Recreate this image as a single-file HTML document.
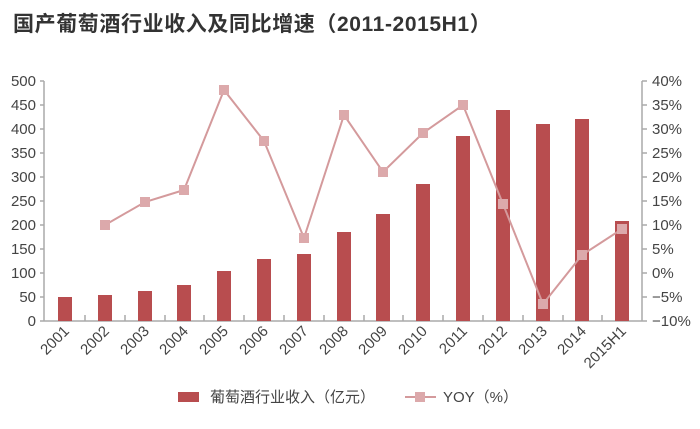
<!DOCTYPE html>
<html><head><meta charset="utf-8"><style>
body{margin:0;background:#fff;}
svg{display:block;font-family:"Liberation Sans","Noto Sans CJK SC",sans-serif;}
</style></head><body>
<svg width="700" height="429" viewBox="0 0 700 429" xmlns="http://www.w3.org/2000/svg">
<text x="13" y="31" font-size="21" font-weight="bold" fill="#333" letter-spacing="0.6">国产葡萄酒行业收入及同比增速（2011-2015H1）</text>
<g font-size="15" fill="#444" text-anchor="end">
<text x="36" y="86">500</text><text x="36" y="110">450</text><text x="36" y="134">400</text>
<text x="36" y="158">350</text><text x="36" y="182">300</text><text x="36" y="206">250</text>
<text x="36" y="230">200</text><text x="36" y="254">150</text><text x="36" y="278">100</text>
<text x="36" y="302">50</text><text x="36" y="326">0</text>
</g>
<g font-size="15" fill="#444">
<text x="652" y="86">40%</text><text x="652" y="110">35%</text><text x="652" y="134">30%</text>
<text x="652" y="158">25%</text><text x="652" y="182">20%</text><text x="652" y="206">15%</text>
<text x="652" y="230">10%</text><text x="652" y="254">5%</text><text x="652" y="278">0%</text>
<text x="652" y="302">−5%</text><text x="652" y="326">−10%</text>
</g>
<g stroke="#aaa" stroke-width="1.5" fill="none">
<line x1="44" y1="81" x2="44" y2="321"/>
<line x1="642" y1="81" x2="642" y2="321"/>
<line x1="44" y1="321" x2="642" y2="321"/>
<path d="M642 81h5M642 105h5M642 129h5M642 153h5M642 177h5M642 201h5M642 225h5M642 249h5M642 273h5M642 297h5M642 321h5"/>
<path d="M40 81h4M40 105h4M40 129h4M40 153h4M40 177h4M40 201h4M40 225h4M40 249h4M40 273h4M40 297h4M40 321h4"/>
<path d="M85 315v6M125 315v6M165 315v6M204 315v6M244 315v6M284 315v6M324 315v6M364 315v6M403 315v6M443 315v6M483 315v6M523 315v6M563 315v6M602 315v6"/>
</g>
<g fill="#b84d4f">
<rect x="58" y="297" width="14" height="24"/>
<rect x="98" y="295" width="14" height="26"/>
<rect x="138" y="291" width="14" height="30"/>
<rect x="177" y="285" width="14" height="36"/>
<rect x="217" y="271" width="14" height="50"/>
<rect x="257" y="259" width="14" height="62"/>
<rect x="297" y="254" width="14" height="67"/>
<rect x="337" y="232" width="14" height="89"/>
<rect x="376" y="214" width="14" height="107"/>
<rect x="416" y="184" width="14" height="137"/>
<rect x="456" y="136" width="14" height="185"/>
<rect x="496" y="110" width="14" height="211"/>
<rect x="536" y="124" width="14" height="197"/>
<rect x="575" y="119" width="14" height="202"/>
<rect x="615" y="221" width="14" height="100"/>
</g>
<polyline fill="none" stroke="#d49a9c" stroke-width="2" points="105,225 145,202 184,190 224,90 264,141 304,238 344,115 383,172 423,133 463,105 503,204 543,304 582,255 622,229"/>
<g fill="#dca9ab">
<rect x="100" y="220" width="10" height="10"/><rect x="140" y="197" width="10" height="10"/>
<rect x="179" y="185" width="10" height="10"/><rect x="219" y="85" width="10" height="10"/>
<rect x="259" y="136" width="10" height="10"/><rect x="299" y="233" width="10" height="10"/>
<rect x="339" y="110" width="10" height="10"/><rect x="378" y="167" width="10" height="10"/>
<rect x="418" y="128" width="10" height="10"/><rect x="458" y="100" width="10" height="10"/>
<rect x="498" y="199" width="10" height="10"/><rect x="538" y="299" width="10" height="10"/>
<rect x="577" y="250" width="10" height="10"/><rect x="617" y="224" width="10" height="10"/>
</g>
<g font-size="15" fill="#444" text-anchor="end">
<text transform="translate(70,332) rotate(-45)">2001</text>
<text transform="translate(110,332) rotate(-45)">2002</text>
<text transform="translate(150,332) rotate(-45)">2003</text>
<text transform="translate(189,332) rotate(-45)">2004</text>
<text transform="translate(229,332) rotate(-45)">2005</text>
<text transform="translate(269,332) rotate(-45)">2006</text>
<text transform="translate(309,332) rotate(-45)">2007</text>
<text transform="translate(349,332) rotate(-45)">2008</text>
<text transform="translate(388,332) rotate(-45)">2009</text>
<text transform="translate(428,332) rotate(-45)">2010</text>
<text transform="translate(468,332) rotate(-45)">2011</text>
<text transform="translate(508,332) rotate(-45)">2012</text>
<text transform="translate(548,332) rotate(-45)">2013</text>
<text transform="translate(587,332) rotate(-45)">2014</text>
<text transform="translate(627,332) rotate(-45)">2015H1</text>
</g>
<rect x="178" y="392" width="21" height="10" fill="#b84d4f"/>
<text x="210" y="402" font-size="15" fill="#444">葡萄酒行业收入（亿元）</text>
<line x1="405" y1="397" x2="436" y2="397" stroke="#d49a9c" stroke-width="2"/>
<rect x="415" y="392" width="10" height="10" fill="#dca9ab"/>
<text x="443" y="402" font-size="15" fill="#444">YOY（%）</text>
</svg>
</body></html>
